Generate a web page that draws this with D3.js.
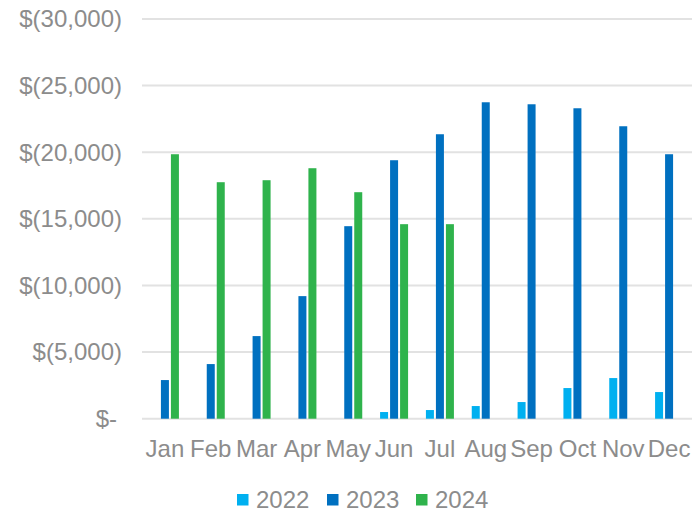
<!DOCTYPE html>
<html>
<head>
  <script src="https://d3js.org/d3.v7.min.js"></script>
  <style>
    body { margin: 0; background: white; }
    svg { display: block; }
    text { font-family: "Liberation Sans", Arial, sans-serif; fill: #8c8c8c; }
  </style>
</head>
<body>
  <svg width="692" height="513"></svg>
  <script>
  // data
  const months = ["Jan", "Feb", "Mar", "Apr", "May", "Jun", "Jul", "Aug", "Sep", "Oct", "Nov", "Dec"];
  const years = ["2022", "2023", "2024"];
  const values2022 = [null, null, null, null, null, 500, 650, 950, 1250, 2300, 3050, 2000];
  const values2023 = [2900, 4100, 6200, 9200, 14450, 19400, 21350, 23750, 23600, 23300, 21950, 19850];
  const values2024 = [19850, 17750, 17900, 18800, 17000, 14600, 14600, null, null, null, null, null];
  const yTicks = [0, 5000, 10000, 15000, 20000, 25000, 30000];
  const colors = ["#00b0f0", "#0070c0", "#2fb34c"];

  const series = [values2022, values2023, values2024];

  const svg = d3.select("svg");
  const plotLeft = 142, plotRight = 692, plotTop = 19, plotBottom = 418.7;

  const x0 = d3.scaleBand().domain(months).range([plotLeft, plotRight]);
  const x1 = d3.scaleBand().domain(years).range([0, 28]).paddingInner(0.2);
  const y = d3.scaleLinear().domain([0, 30000]).range([plotBottom, plotTop]);

  // gridlines
  svg.append("g")
    .selectAll("line")
    .data(yTicks)
    .enter().append("line")
    .attr("x1", plotLeft).attr("x2", plotRight)
    .attr("y1", d => y(d)).attr("y2", d => y(d))
    .attr("stroke", "#e2e2e2")
    .attr("stroke-width", 2);

  // y labels
  const fmt = d3.format(",");
  svg.append("g")
    .selectAll("text")
    .data(yTicks)
    .enter().append("text")
    .attr("x", d => d === 0 ? 117 : 122)
    .attr("y", d => y(d))
    .attr("dy", "0.35em")
    .attr("text-anchor", "end")
    .attr("font-size", 24)
    .text(d => d === 0 ? "$-" : "$(" + fmt(d) + ")");

  // bars
  const offset = (x0.bandwidth() - 28) / 2;
  series.forEach((vals, i) => {
    svg.append("g")
      .selectAll("rect")
      .data(months.map((m, j) => ({ m, v: vals[j] })).filter(d => d.v != null))
      .enter().append("rect")
      .attr("x", d => x0(d.m) + offset + x1(years[i]))
      .attr("width", x1.bandwidth())
      .attr("y", d => y(d.v))
      .attr("height", d => y(0) - y(d.v))
      .attr("fill", colors[i]);
  });

  // month labels
  svg.append("g")
    .selectAll("text")
    .data(months)
    .enter().append("text")
    .attr("x", d => x0(d) + x0.bandwidth() / 2)
    .attr("y", 457)
    .attr("text-anchor", "middle")
    .attr("font-size", 24)
    .text(d => d);

  // legend
  const legendX = [237, 327, 416];
  const legend = svg.append("g")
    .selectAll("g")
    .data(years)
    .enter().append("g")
    .attr("transform", (d, i) => `translate(${legendX[i]},494)`);
  legend.append("rect")
    .attr("width", 11.5).attr("height", 11.5)
    .attr("fill", (d, i) => colors[i]);
  legend.append("text")
    .attr("x", 19)
    .attr("y", 6)
    .attr("dy", "0.35em")
    .attr("font-size", 24)
    .text(d => d);
  </script>
</body>
</html>
